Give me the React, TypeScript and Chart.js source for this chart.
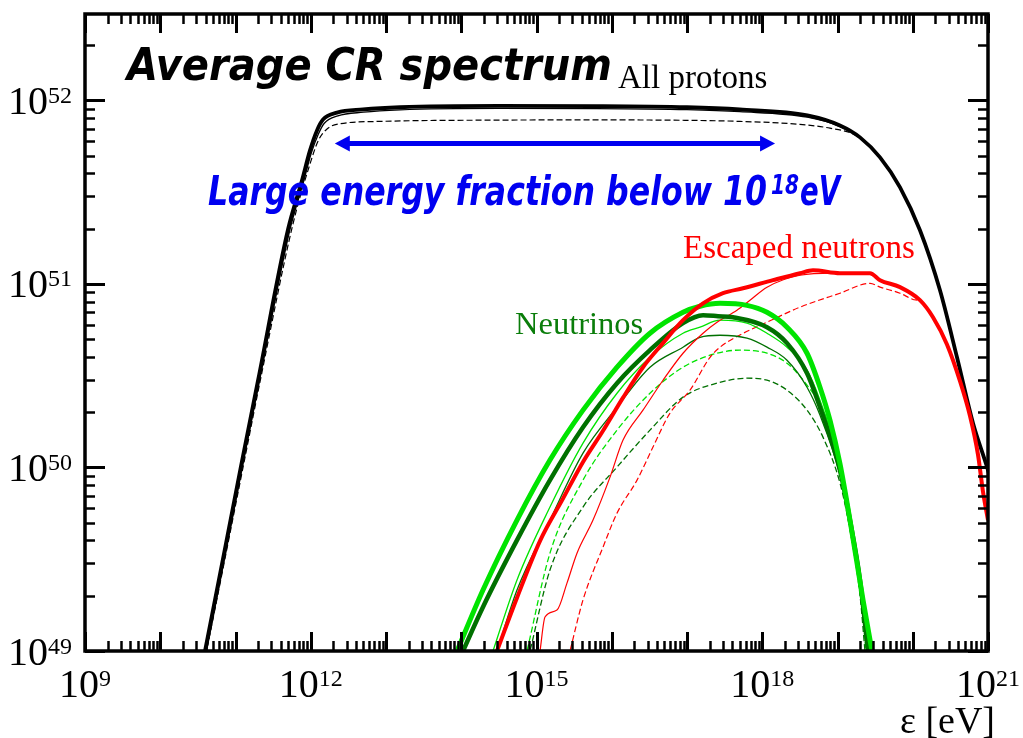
import { useEffect, useRef } from "react";
import { Chart, registerables } from "chart.js";

Chart.register(...registerables);

// Axis ranges, as powers of ten
const E_MIN_EXP = 9;
const E_MAX_EXP = 21;
const Y_MIN_EXP = 49;
const Y_MAX_EXP = 52.47;

const energyLabelExps = [9, 12, 15, 18, 21];
const yieldLabelExps = [49, 50, 51, 52];

// Every curve: log10(ε / eV) and log10 of the spectrum value
const protonThickLogE = [10.58, 10.595, 11.07, 11.3, 11.7, 11.884, 11.99, 12.083, 12.163, 12.349, 12.694, 13.186, 14.5, 15.8, 17.0, 17.7, 18.6, 19.033, 19.299, 19.565, 19.831, 20.096, 20.362, 20.588, 20.801, 20.987, 21.05];
const protonThickLogY = [48.97, 49.0, 50.0, 50.475, 51.3, 51.564, 51.727, 51.836, 51.895, 51.933, 51.95, 51.962, 51.969, 51.968, 51.962, 51.95, 51.918, 51.863, 51.798, 51.689, 51.526, 51.292, 50.965, 50.6, 50.241, 50.002, 49.91];

const protonThinLogE = [10.6, 10.615, 11.09, 11.32, 11.72, 11.9, 12.005, 12.1, 12.18, 12.36, 12.7, 13.186, 14.5, 15.8, 17.0, 17.7, 18.6, 19.033, 19.299, 19.565, 19.831, 20.096, 20.362, 20.588, 20.801, 20.987, 21.05];
const protonThinLogY = [48.97, 49.0, 50.0, 50.475, 51.29, 51.55, 51.71, 51.815, 51.875, 51.915, 51.935, 51.948, 51.956, 51.955, 51.949, 51.938, 51.908, 51.857, 51.795, 51.687, 51.525, 51.291, 50.964, 50.599, 50.24, 50.001, 49.91];

const protonDashedLogE = [10.6, 10.615, 11.1, 11.33, 11.76, 11.98, 12.1, 12.22, 12.39, 12.92, 14.5, 15.84, 17.17, 17.7, 18.5, 18.9, 19.23, 19.45, 19.565, 19.831, 20.096, 20.362, 20.588, 20.801, 20.987, 21.05];
const protonDashedLogY = [48.97, 49.0, 50.0, 50.475, 51.32, 51.64, 51.78, 51.845, 51.872, 51.885, 51.892, 51.893, 51.89, 51.885, 51.869, 51.848, 51.812, 51.742, 51.686, 51.524, 51.29, 50.963, 50.598, 50.239, 50.0, 49.91];

const neutronThickLogE = [14.45, 14.475, 14.741, 15.047, 15.352, 15.618, 15.884, 16.15, 16.415, 16.681, 16.947, 17.213, 17.478, 17.744, 18.143, 18.502, 18.674, 19.033, 19.432, 19.565, 19.831, 20.096, 20.269, 20.455, 20.628, 20.761, 20.867, 20.934, 21.0];
const neutronThickLogY = [48.972, 49.0, 49.29, 49.6, 49.83, 50.03, 50.2, 50.38, 50.546, 50.677, 50.802, 50.894, 50.949, 50.976, 51.02, 51.058, 51.074, 51.058, 51.058, 51.02, 50.982, 50.911, 50.818, 50.67, 50.47, 50.28, 50.07, 49.866, 49.713];

const neutronThinLogE = [15.03, 15.047, 15.113, 15.272, 15.405, 15.538, 15.751, 15.977, 16.15, 16.415, 16.681, 16.947, 17.213, 17.399, 17.664, 17.837, 18.063, 18.502, 18.94, 19.432, 19.565, 19.831, 20.096, 20.269, 20.455, 20.628, 20.761, 20.867, 20.934, 21.0];
const neutronThinLogY = [48.95, 49.0, 49.185, 49.223, 49.37, 49.533, 49.713, 49.947, 50.149, 50.312, 50.475, 50.622, 50.731, 50.791, 50.856, 50.911, 50.982, 51.047, 51.058, 51.052, 51.016, 50.978, 50.907, 50.815, 50.667, 50.468, 50.278, 50.068, 49.864, 49.711];

const neutronDashedLogE = [15.42, 15.445, 15.618, 15.884, 16.07, 16.336, 16.548, 16.774, 17.04, 17.306, 17.439, 17.65, 18.063, 18.502, 19.033, 19.432, 19.565, 19.831, 20.003, 20.096, 20.269, 20.455, 20.628, 20.761, 20.867, 20.934, 21.0];
const neutronDashedLogY = [48.96, 49.0, 49.278, 49.566, 49.751, 49.931, 50.111, 50.296, 50.421, 50.6, 50.655, 50.71, 50.791, 50.873, 50.949, 51.003, 50.982, 50.949, 50.915, 50.905, 50.812, 50.665, 50.466, 50.276, 50.066, 49.862, 49.709];

const nuBrightThickLogE = [13.92, 13.944, 14.289, 14.741, 15.179, 15.618, 16.07, 16.508, 16.947, 17.173, 17.439, 17.797, 18.063, 18.329, 18.595, 18.767, 18.9, 19.033, 19.166, 19.339, 19.458, 19.5];
const nuBrightThickLogY = [48.977, 49.0, 49.332, 49.713, 50.04, 50.312, 50.546, 50.731, 50.845, 50.878, 50.894, 50.883, 50.845, 50.764, 50.622, 50.437, 50.257, 50.02, 49.713, 49.278, 49.0, 48.9];

const nuDarkThickLogE = [14.0, 14.023, 14.289, 14.741, 15.179, 15.618, 16.07, 16.508, 16.947, 17.213, 17.412, 17.611, 18.063, 18.329, 18.595, 18.767, 19.033, 19.166, 19.299, 19.405, 19.43];
const nuDarkThickLogY = [48.979, 49.0, 49.24, 49.604, 49.931, 50.219, 50.459, 50.639, 50.786, 50.829, 50.824, 50.818, 50.764, 50.677, 50.513, 50.328, 49.985, 49.713, 49.387, 49.0, 48.909];

const nuBrightThinLogE = [14.4, 14.422, 14.741, 15.179, 15.618, 16.07, 16.508, 16.947, 17.173, 17.439, 17.797, 18.063, 18.329, 18.595, 18.767, 19.033, 19.166, 19.326, 19.432, 19.46];
const nuBrightThinLogY = [48.973, 49.0, 49.387, 49.784, 50.132, 50.404, 50.6, 50.731, 50.764, 50.802, 50.786, 50.731, 50.655, 50.53, 50.366, 50.013, 49.713, 49.278, 49.0, 48.927];

const nuDarkThinLogE = [14.45, 14.475, 14.741, 15.179, 15.618, 16.07, 16.508, 16.947, 17.173, 17.439, 17.797, 18.063, 18.329, 18.595, 18.767, 19.033, 19.166, 19.299, 19.392, 19.42];
const nuDarkThinLogY = [48.969, 49.0, 49.332, 49.713, 50.078, 50.328, 50.546, 50.655, 50.709, 50.72, 50.704, 50.655, 50.584, 50.437, 50.285, 49.958, 49.686, 49.332, 49.0, 48.9];

const nuBrightDashedLogE = [14.85, 14.874, 15.179, 15.618, 16.07, 16.508, 16.947, 17.399, 17.704, 18.063, 18.329, 18.595, 18.807, 19.033, 19.166, 19.299, 19.379, 19.41];
const nuBrightDashedLogY = [48.958, 49.0, 49.533, 49.931, 50.203, 50.404, 50.546, 50.622, 50.639, 50.622, 50.568, 50.448, 50.312, 50.04, 49.74, 49.359, 49.0, 48.86];

const nuDarkDashedLogE = [14.89, 14.914, 15.179, 15.618, 16.07, 16.508, 16.947, 17.399, 17.797, 18.063, 18.329, 18.595, 18.807, 19.033, 19.166, 19.299, 19.365, 19.4];
const nuDarkDashedLogY = [48.96, 49.0, 49.441, 49.784, 50.002, 50.203, 50.383, 50.459, 50.486, 50.475, 50.421, 50.312, 50.165, 49.915, 49.659, 49.305, 49.0, 48.84];

// Double arrow marking the energy band below 10^18 eV
const arrowStartExp = 12.32;
const arrowEndExp = 18.17;
const arrowLevelExp = 51.765;

const BLACK = "#000000";
const RED = "#ff0000";
const LIME = "#00e400";
const DARK_GREEN = "#007000";
const BLUE = "#0000f0";
const SERIF = "'Liberation Serif', 'Times New Roman', serif";
const POP = "'DejaVu Sans', sans-serif";

function toPoints(logE: number[], logY: number[]) {
  return logE.map((e, i) => ({ x: Math.pow(10, e), y: Math.pow(10, logY[i]) }));
}

function curve(logE: number[], logY: number[], color: string, width: number, dashed = false) {
  return {
    data: toPoints(logE, logY),
    borderColor: color,
    borderWidth: width,
    borderDash: dashed ? [6, 3] : [],
    pointRadius: 0,
    fill: false,
    cubicInterpolationMode: "monotone" as const,
    borderCapStyle: "butt" as const,
    borderJoinStyle: "round" as const,
  };
}

function powerOfTen(ctx: CanvasRenderingContext2D, exp: number, x: number, baseline: number, align: "center" | "right") {
  const bigFont = `40px ${SERIF}`;
  const smallFont = `24px ${SERIF}`;
  ctx.font = bigFont;
  const w1 = ctx.measureText("10").width;
  ctx.font = smallFont;
  const w2 = ctx.measureText(String(exp)).width;
  const total = w1 + w2;
  const x0 = align === "center" ? x - total / 2 : x - total;
  ctx.textAlign = "left";
  ctx.textBaseline = "alphabetic";
  ctx.font = bigFont;
  ctx.fillText("10", x0, baseline);
  ctx.font = smallFont;
  ctx.fillText(String(exp), x0 + w1, baseline - 11);
}

const frameAndNotes = {
  id: "frameAndNotes",
  afterDraw(chart: any) {
    const { ctx, chartArea: a, scales } = chart;
    const xs = scales.x;
    const ys = scales.y;
    ctx.save();
    ctx.strokeStyle = BLACK;
    ctx.fillStyle = BLACK;
    ctx.lineCap = "butt";

    const seg = (x1: number, y1: number, x2: number, y2: number) => {
      ctx.beginPath();
      ctx.moveTo(x1, y1);
      ctx.lineTo(x2, y2);
      ctx.stroke();
    };

    // inward ticks on all four sides
    for (let k = E_MIN_EXP; k <= E_MAX_EXP; k++) {
      for (let m = 1; m <= 9; m++) {
        const v = m * Math.pow(10, k);
        if (v > Math.pow(10, E_MAX_EXP) * 1.0001) break;
        const px = Math.round(xs.getPixelForValue(v)) + 0.5;
        const major = m === 1;
        ctx.lineWidth = major ? 3 : 2.5;
        const len = major ? 19 : 10;
        seg(px, a.bottom, px, a.bottom - len);
        seg(px, a.top, px, a.top + len);
      }
    }
    for (let k = Y_MIN_EXP; k <= Math.floor(Y_MAX_EXP); k++) {
      for (let m = 1; m <= 9; m++) {
        const v = m * Math.pow(10, k);
        if (v > Math.pow(10, Y_MAX_EXP)) break;
        const py = Math.round(ys.getPixelForValue(v)) + 0.5;
        const major = m === 1;
        ctx.lineWidth = major ? 3 : 2.5;
        const len = major ? 20 : 10;
        seg(a.left, py, a.left + len, py);
        seg(a.right, py, a.right - len, py);
      }
    }

    // frame
    ctx.lineWidth = 3.5;
    ctx.strokeRect(a.left, a.top, a.right - a.left, a.bottom - a.top);

    // tick labels
    ctx.fillStyle = BLACK;
    for (const e of energyLabelExps) {
      powerOfTen(ctx, e, xs.getPixelForValue(Math.pow(10, e)), a.bottom + 46, "center");
    }
    for (const e of yieldLabelExps) {
      powerOfTen(ctx, e, a.left - 13, ys.getPixelForValue(Math.pow(10, e)) + 13.5, "right");
    }

    // axis title
    ctx.font = `38px ${SERIF}`;
    ctx.textAlign = "right";
    ctx.fillText("ε [eV]", 995, 733);

    // heading
    ctx.textAlign = "left";
    ctx.font = `italic bold 45px ${POP}`;
    ctx.fillText("Average CR spectrum", 127, 80, 485);
    ctx.font = `33px ${SERIF}`;
    ctx.fillText("All protons", 618, 88);

    // curve names
    ctx.fillStyle = RED;
    ctx.font = `33px ${SERIF}`;
    ctx.fillText("Escaped neutrons", 683, 258);
    ctx.fillStyle = "#0a7d0a";
    ctx.font = `32.5px ${SERIF}`;
    ctx.fillText("Neutrinos", 515, 334);

    // blue arrow and caption
    const ax1 = xs.getPixelForValue(Math.pow(10, arrowStartExp));
    const ax2 = xs.getPixelForValue(Math.pow(10, arrowEndExp));
    const ay = ys.getPixelForValue(Math.pow(10, arrowLevelExp));
    const head = 15;
    const half = 8;
    ctx.strokeStyle = BLUE;
    ctx.fillStyle = BLUE;
    ctx.lineWidth = 5;
    seg(ax1 + head - 2, ay, ax2 - head + 2, ay);
    ctx.beginPath();
    ctx.moveTo(ax1, ay);
    ctx.lineTo(ax1 + head, ay - half);
    ctx.lineTo(ax1 + head, ay + half);
    ctx.closePath();
    ctx.fill();
    ctx.beginPath();
    ctx.moveTo(ax2, ay);
    ctx.lineTo(ax2 - head, ay - half);
    ctx.lineTo(ax2 - head, ay + half);
    ctx.closePath();
    ctx.fill();

    ctx.font = `italic bold 41px ${POP}`;
    ctx.fillText("Large energy fraction below 10", 208, 205, 559);
    ctx.font = `italic bold 27px ${POP}`;
    ctx.fillText("18", 771, 194, 28);
    ctx.font = `italic bold 41px ${POP}`;
    ctx.fillText("eV", 800, 205, 40);

    ctx.restore();
  },
};

export default function App() {
  const canvasRef = useRef<HTMLCanvasElement | null>(null);

  useEffect(() => {
    const canvas = canvasRef.current;
    if (!canvas) return;
    const chart = new Chart(canvas, {
      type: "line",
      data: {
        datasets: [
          curve(neutronThickLogE, neutronThickLogY, RED, 4),
          curve(nuBrightThickLogE, nuBrightThickLogY, LIME, 5),
          curve(nuDarkThickLogE, nuDarkThickLogY, DARK_GREEN, 4.5),
          curve(protonThickLogE, protonThickLogY, BLACK, 3.8),
          curve(neutronThinLogE, neutronThinLogY, RED, 1.2),
          curve(nuBrightThinLogE, nuBrightThinLogY, LIME, 1.3),
          curve(nuDarkThinLogE, nuDarkThinLogY, DARK_GREEN, 1.3),
          curve(protonThinLogE, protonThinLogY, BLACK, 1.3),
          curve(neutronDashedLogE, neutronDashedLogY, RED, 1.2, true),
          curve(nuBrightDashedLogE, nuBrightDashedLogY, LIME, 1.3, true),
          curve(nuDarkDashedLogE, nuDarkDashedLogY, DARK_GREEN, 1.3, true),
          curve(protonDashedLogE, protonDashedLogY, BLACK, 1.2, true),
        ],
      },
      options: {
        animation: false,
        responsive: false,
        devicePixelRatio: 1,
        events: [],
        layout: { padding: { left: 85, top: 14, right: 35, bottom: 87 } },
        plugins: {
          legend: { display: false },
          tooltip: { enabled: false },
          title: { display: false },
        },
        scales: {
          x: { type: "logarithmic", min: Math.pow(10, E_MIN_EXP), max: Math.pow(10, E_MAX_EXP), display: false },
          y: { type: "logarithmic", min: Math.pow(10, Y_MIN_EXP), max: Math.pow(10, Y_MAX_EXP), display: false },
        },
      },
      plugins: [frameAndNotes],
    });
    return () => chart.destroy();
  }, []);

  return (
    <div style={{ position: "absolute", left: 0, top: 0, width: 1023, height: 738, background: "#fff" }}>
      <canvas ref={canvasRef} width={1023} height={738} style={{ display: "block" }} />
    </div>
  );
}
